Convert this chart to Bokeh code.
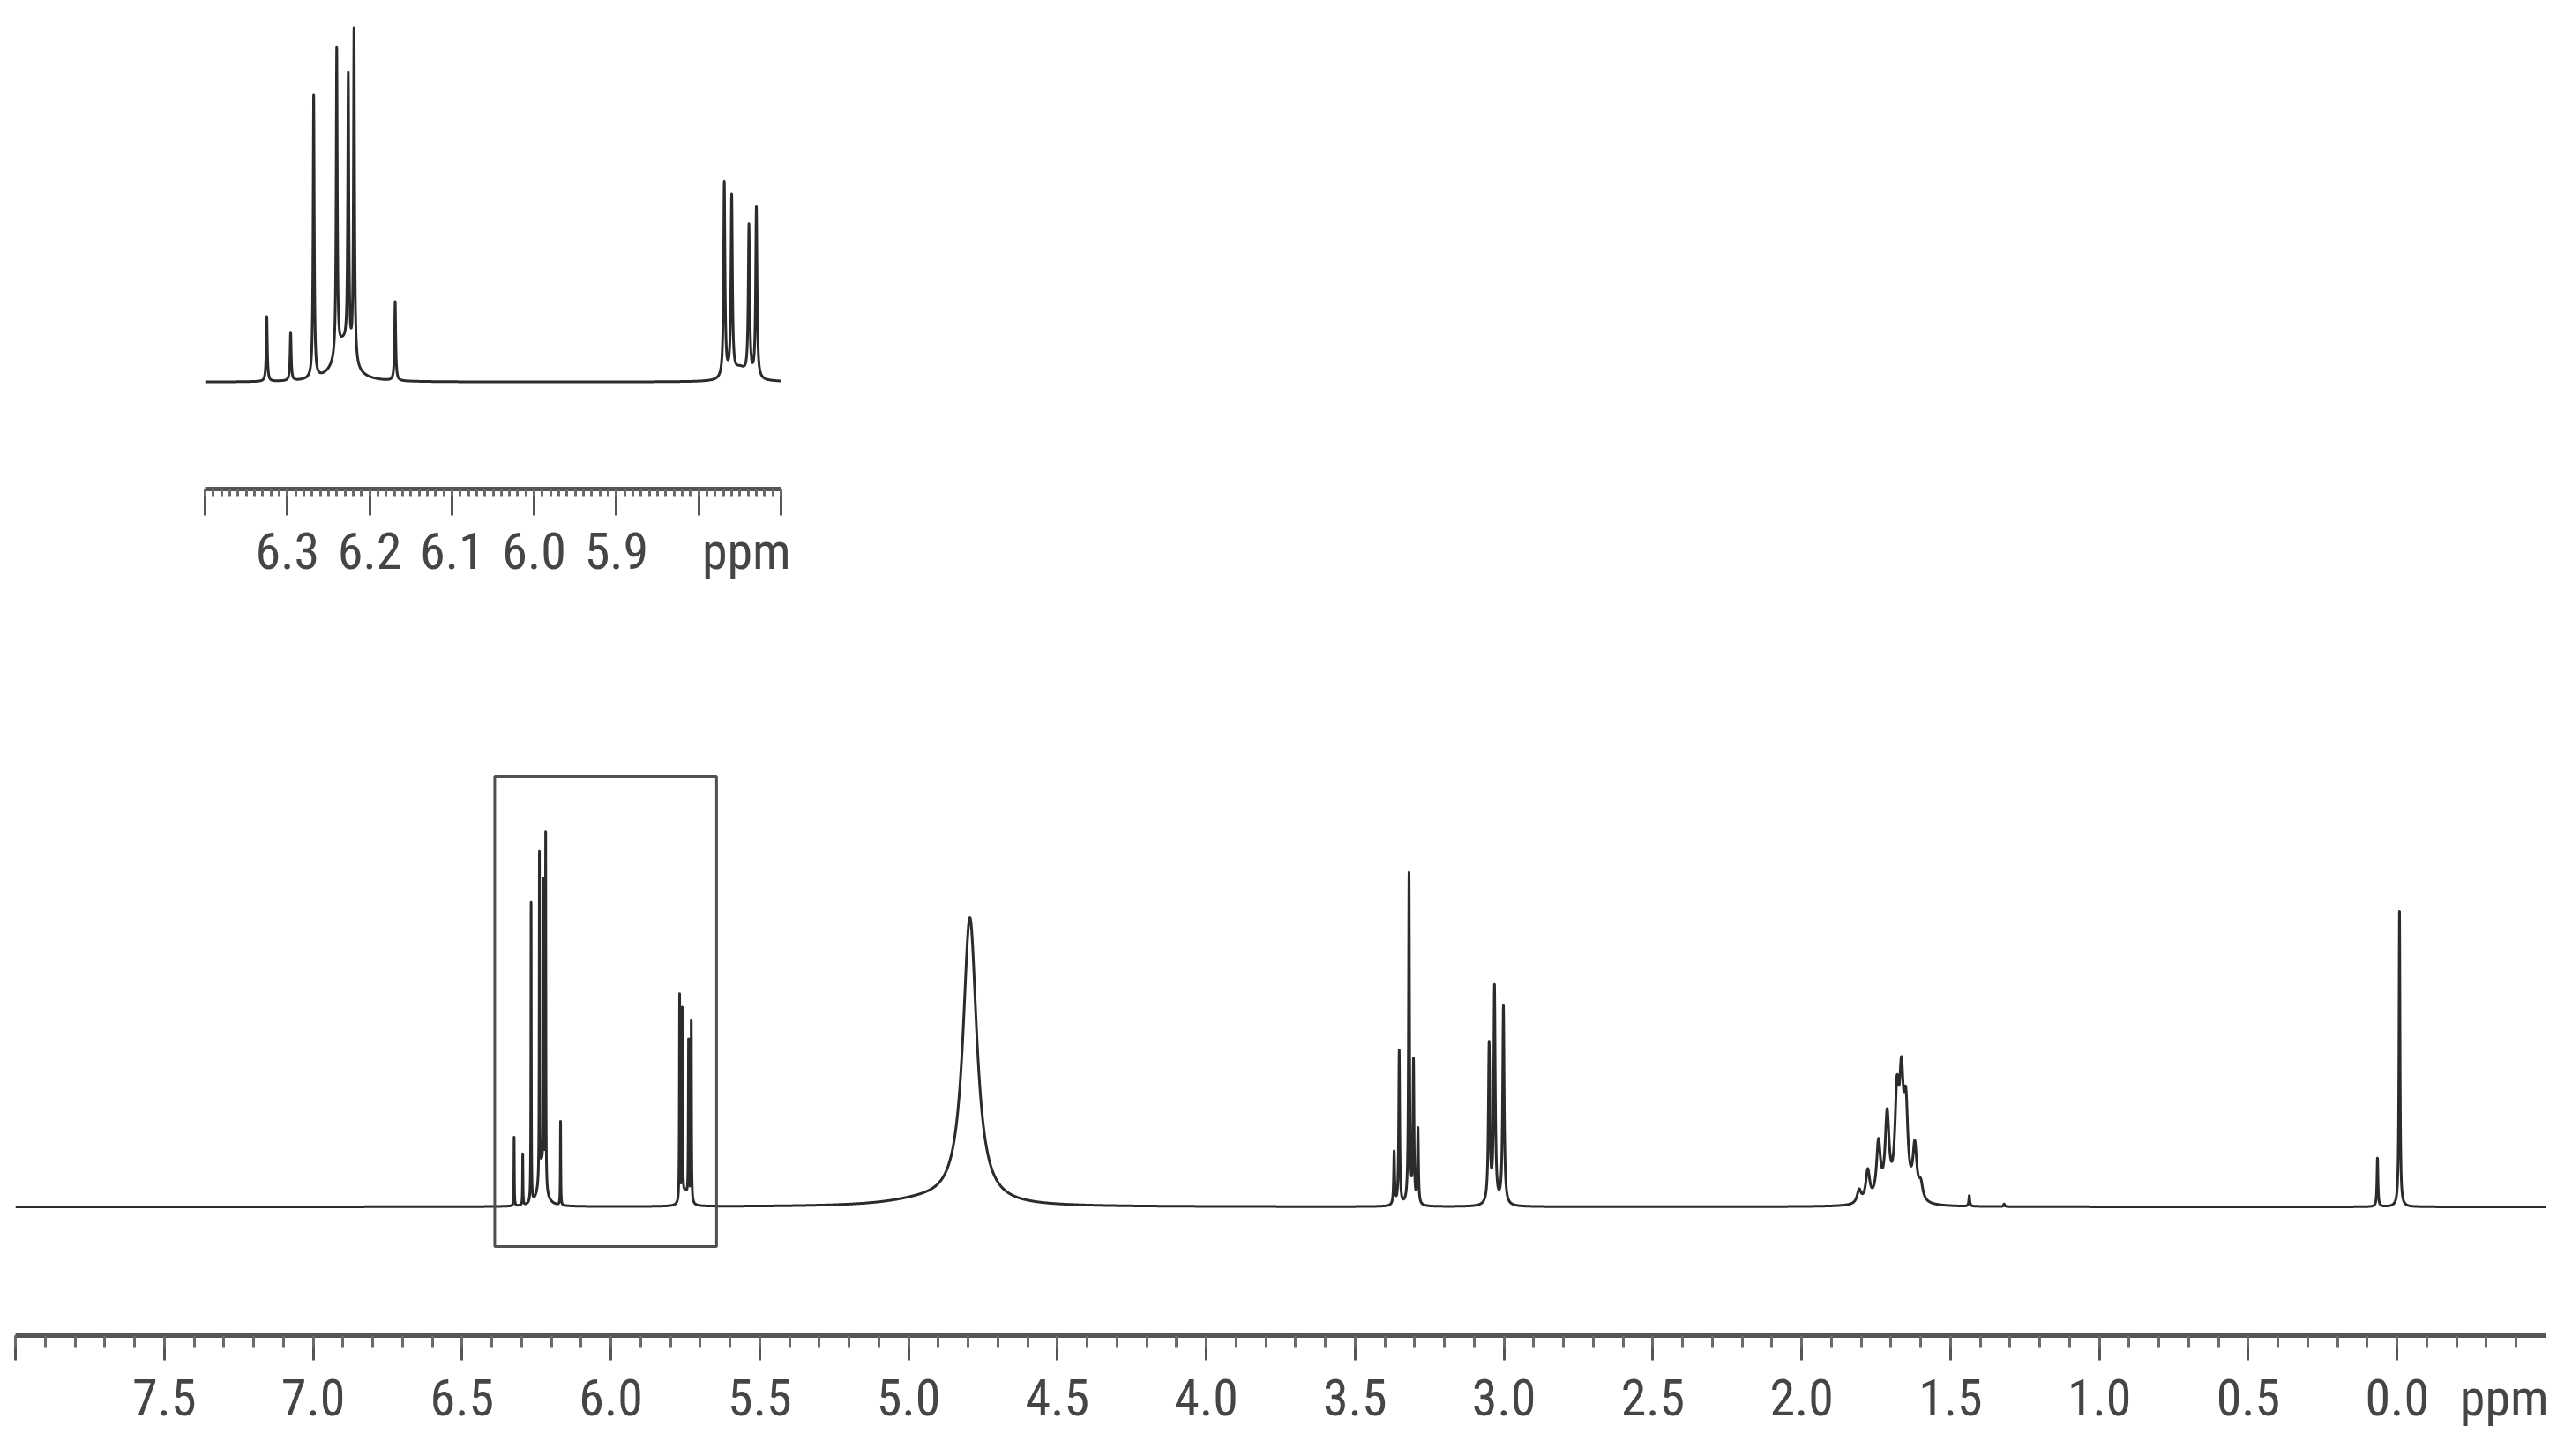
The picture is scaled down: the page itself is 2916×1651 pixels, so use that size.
import numpy as np
from bokeh.plotting import figure
from bokeh.models import Range1d, FixedTicker, LinearAxis
from bokeh.layouts import column
from bokeh.embed import file_html
from bokeh.resources import INLINE

# ---------------- data ----------------
# 1H NMR peaks: chemical shift (ppm), height (main-plot px units), half width (ppm)
peak_ppm = [6.325, 6.296, 6.268, 6.240, 6.226, 6.219, 6.169, 6.232,
            5.769, 5.760, 5.739, 5.730, 5.750,
            4.794, 4.950,
            3.369, 3.352, 3.319, 3.304, 3.289,
            3.050, 3.032, 3.002,
            1.807, 1.778, 1.742, 1.713, 1.680, 1.665, 1.650, 1.620, 1.600,
            1.437, 1.320,
            0.066, -0.008]
peak_height = [78, 58, 340, 370, 330, 400, 95, 45,
               235, 215, 180, 205, 15,
               325, 6,
               60, 175, 375, 160, 85,
               180, 245, 225,
               15, 36, 65, 95, 108, 120, 95, 60, 18,
               12, 3,
               55, 335]
peak_hwhm = [0.0008, 0.0008, 0.0008, 0.0008, 0.0008, 0.0008, 0.0008, 0.012,
             0.001, 0.001, 0.001, 0.001, 0.010,
             0.028, 0.15,
             0.002, 0.002, 0.002, 0.002, 0.002,
             0.003, 0.003, 0.003,
             0.008, 0.008, 0.008, 0.008, 0.008, 0.008, 0.008, 0.008, 0.008,
             0.002, 0.002,
             0.002, 0.002]

# main axis ticks and labels
main_ticks = [8.0, 7.5, 7.0, 6.5, 6.0, 5.5, 5.0, 4.5, 4.0, 3.5, 3.0, 2.5, 2.0, 1.5, 1.0, 0.5, 0.0]
main_label_pos = [7.5, 7.0, 6.5, 6.0, 5.5, 5.0, 4.5, 4.0, 3.5, 3.0, 2.5, 2.0, 1.5, 1.0, 0.5, 0.0, -0.36]
main_labels = ["7.5", "7.0", "6.5", "6.0", "5.5", "5.0", "4.5", "4.0", "3.5",
               "3.0", "2.5", "2.0", "1.5", "1.0", "0.5", "0.0", "ppm"]
# inset axis ticks and labels
inset_ticks = [6.4, 6.3, 6.2, 6.1, 6.0, 5.9, 5.8, 5.7]
inset_label_pos = [6.3, 6.2, 6.1, 6.0, 5.9, 5.742]
inset_labels = ["6.3", "6.2", "6.1", "6.0", "5.9", "ppm"]

# boxed region on the main spectrum (ppm, intensity)
box_ppm = [6.39, 5.645]
box_int = [-45, 488]

# ---------------- spectrum line shape ----------------
def spectrum(x):
    y = np.zeros_like(x)
    for c, h, w in zip(peak_ppm, peak_height, peak_hwhm):
        y += h * w * w / ((x - c) ** 2 + w * w)
    return y

coarse = np.linspace(8.0, -0.5, 8501)
fine = [c + np.linspace(-0.03, 0.03, 601) for c in peak_ppm]
x_main = np.unique(np.concatenate([coarse] + fine))[::-1]
x_main = x_main[(x_main <= 8.0) & (x_main >= -0.5)]
y_main = spectrum(x_main)

x_inset = np.linspace(6.4, 5.7, 14001)
y_inset = spectrum(x_inset)

# ---------------- styles ----------------
FONT = "Roboto Condensed, Liberation Sans Narrow, Liberation Sans, Arial, sans-serif"
FONT_SIZE = "58px"
LINE_COLOR = "#2b2b2b"
AXIS_COLOR = "#555555"
LABEL_COLOR = "#454545"


def tick_axis(ax, ticks, minor, tick_out, minor_out):
    """Axis line with tick marks only (texts come from a second axis)."""
    ax.ticker = FixedTicker(ticks=ticks, minor_ticks=minor)
    ax.major_label_overrides = {t: "" for t in ticks}
    ax.major_label_text_font_size = "0px"
    ax.major_label_standoff = 0
    ax.axis_line_width = 5
    ax.axis_line_color = AXIS_COLOR
    ax.major_tick_line_width = 3
    ax.major_tick_line_color = AXIS_COLOR
    ax.major_tick_in = 0
    ax.major_tick_out = tick_out
    ax.minor_tick_line_width = 3
    ax.minor_tick_line_color = "#6a6a6a"
    ax.minor_tick_in = 0
    ax.minor_tick_out = minor_out


def label_axis(p, pos, labels, standoff):
    """Second axis below the first that carries only the texts."""
    ax = LinearAxis(ticker=FixedTicker(ticks=pos, minor_ticks=[]))
    ax.major_label_overrides = {t: l for t, l in zip(pos, labels)}
    ax.axis_line_color = None
    ax.major_tick_line_color = None
    ax.minor_tick_line_color = None
    ax.major_tick_out = 0
    ax.major_tick_in = 0
    ax.minor_tick_out = 0
    ax.minor_tick_in = 0
    ax.major_label_text_font = FONT
    ax.major_label_text_font_size = FONT_SIZE
    ax.major_label_text_color = LABEL_COLOR
    ax.major_label_standoff = standoff
    p.add_layout(ax, "below")


# ---------------- inset (expanded 6.4 - 5.7 ppm) ----------------
IN_TOP = 10
IN_FRAME_H = 544
IN_BOTTOM = 140
IN_LEFT = 232
IN_FRAME_W = 653
TOTAL_W = 2900
in_base_px = 121      # baseline height above frame bottom
in_scale = 0.943      # inset px per intensity unit
in_y0 = -in_base_px / in_scale
in_y1 = (IN_FRAME_H - in_base_px) / in_scale

inset = figure(frame_width=IN_FRAME_W, frame_height=IN_FRAME_H,
               output_backend="svg", toolbar_location=None,
               x_range=Range1d(6.4, 5.7), y_range=Range1d(in_y0, in_y1),
               y_axis_location=None, frame_align=False,
               min_border_left=IN_LEFT, min_border_right=TOTAL_W - IN_LEFT - IN_FRAME_W,
               min_border_top=IN_TOP, min_border_bottom=IN_BOTTOM)
inset.outline_line_color = None
inset.grid.visible = False
inset.line(x_inset, y_inset, line_width=3, line_color=LINE_COLOR, line_join="round")
inset_minor = [round(6.4 - 0.01 * i, 2) for i in range(71)]
tick_axis(inset.xaxis[0], inset_ticks, inset_minor, 30, 8)
label_axis(inset, inset_label_pos, inset_labels, 6)

# ---------------- main spectrum ----------------
inset_total = IN_TOP + IN_FRAME_H + IN_BOTTOM
M_TOP = 6
M_AXIS_PAGE_Y = 1522          # page y of the main axis line
M_FRAME_H = M_AXIS_PAGE_Y - 8 - inset_total - M_TOP
M_BOTTOM = 1635 - inset_total - M_TOP - M_FRAME_H
m_base_px = 146               # baseline height above axis line
M_LEFT = 17
M_FRAME_W = 2869

main = figure(frame_width=M_FRAME_W, frame_height=M_FRAME_H,
              output_backend="svg", toolbar_location=None,
              x_range=Range1d(8.0, -0.5), y_range=Range1d(-m_base_px, M_FRAME_H - m_base_px),
              y_axis_location=None, frame_align=False,
              min_border_left=M_LEFT, min_border_right=TOTAL_W - M_LEFT - M_FRAME_W,
              min_border_top=M_TOP, min_border_bottom=M_BOTTOM)
main.outline_line_color = None
main.grid.visible = False
main.line(x_main, y_main, line_width=3, line_color=LINE_COLOR, line_join="round")
main.quad(left=[box_ppm[0]], right=[box_ppm[1]], bottom=[box_int[0]], top=[box_int[1]],
          fill_color=None, line_color="#505050", line_width=3)
main_minor = [round(8.0 - 0.1 * i, 1) for i in range(85)]
tick_axis(main.xaxis[0], main_ticks, main_minor, 28, 13)
label_axis(main, main_label_pos, main_labels, 8)

layout = column(inset, main, spacing=0)
open("out.html", "w").write(file_html(layout, INLINE))
